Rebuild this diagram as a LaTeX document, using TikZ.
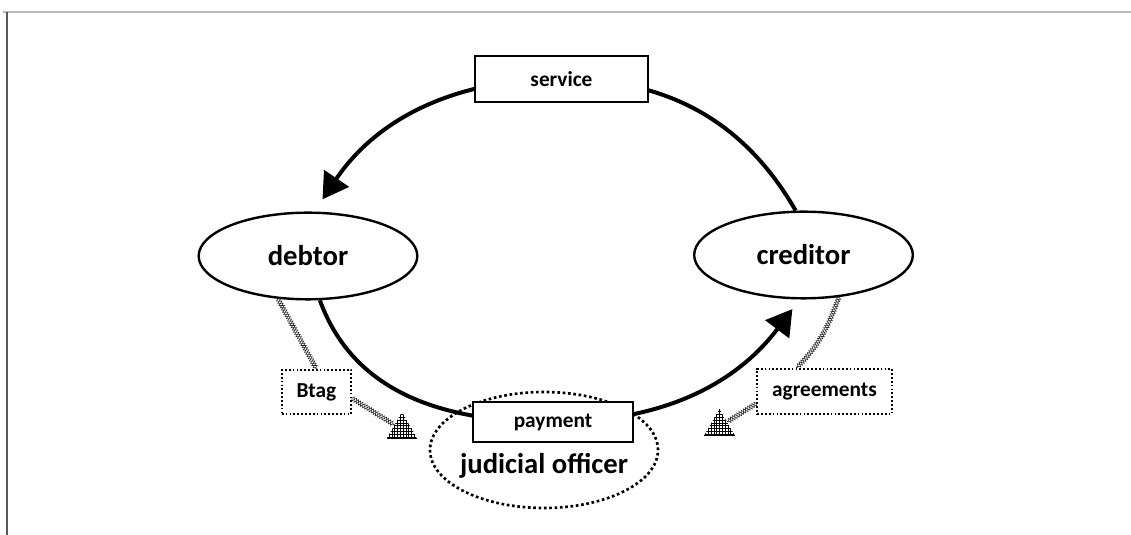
\documentclass[tikz,border=0pt]{standalone}
\usepackage{fontspec}
\setmainfont{Carlito}
\usetikzlibrary{arrows.meta, shapes.geometric, decorations.pathmorphing, patterns, backgrounds}

% fine grid for the hatched triangles
\pgfdeclarepatternformonly{finegrid}{\pgfqpoint{-0.5pt}{-0.5pt}}{\pgfqpoint{2.6pt}{2.6pt}}{\pgfqpoint{2.1pt}{2.1pt}}{%
    \pgfsetlinewidth{0.55pt}
    \pgfpathmoveto{\pgfqpoint{0pt}{0pt}}\pgfpathlineto{\pgfqpoint{2.1pt}{0pt}}
    \pgfpathmoveto{\pgfqpoint{0pt}{0pt}}\pgfpathlineto{\pgfqpoint{0pt}{2.1pt}}
    \pgfusepath{stroke}}

\begin{document}
\begin{tikzpicture}[
    x=0.75pt, y=0.75pt,
    > = {Triangle[length=19pt, width=22pt]},
    party/.style={ellipse, draw, line width=1.8pt, fill=white, minimum width=164pt, minimum height=65pt,
        font=\fontsize{21.5}{24}\selectfont\bfseries},
    tagbox/.style={rectangle, draw, line width=1.6pt, fill=white, inner sep=0pt,
        font=\fontsize{16}{18}\selectfont\bfseries},
    notebox/.style={rectangle, draw, line width=1.3pt, dash pattern=on 1.3pt off 1.6pt, fill=white, inner sep=0pt,
        font=\fontsize{16}{18}\selectfont\bfseries},
    flow/.style={line width=3pt},
    stitch/.style={
        preaction={draw=black!85, line width=0.45pt, decorate, decoration={zigzag, amplitude=1.8pt, segment length=3.8pt}},
        postaction={draw=black!85, line width=0.45pt, decorate, decoration={zigzag, mirror, amplitude=1.8pt, segment length=3.8pt}}},
    hatch/.style={regular polygon, regular polygon sides=3, minimum size=26pt, inner sep=0pt, pattern=finegrid}
]
    \useasboundingbox (0,0) rectangle (1131,535);

    % Draw the page frame
    \draw[gray!55, line width=1.5pt] (3,523) -- (1131,523);
    \draw[black!65, line width=1.5pt] (7,523) -- (7,0);

    % Draw the two parties
    \node[party] (debtor) at (308,279) {debtor};
    \node[party] (creditor) at (803.5,280) {creditor};

    % Draw the judicial officer (dotted)
    \node[ellipse, draw, line width=2pt, dash pattern=on 2pt off 2pt, minimum width=171pt, minimum height=87pt,
        label={[font=\fontsize{21.5}{24}\selectfont\bfseries, yshift=-12pt]center:judicial officer}] (officer) at (544,85) {};

    % Labels on the cycle
    \node[tagbox, minimum width=130pt, minimum height=34.5pt] (service) at (561.5,456) {service};
    \node[tagbox, minimum width=120pt, minimum height=30pt] (payment) at (553,113) {payment};

    % Side notes and hatched triangles
    \node[notebox, minimum width=52pt, minimum height=33pt] (btag) at (316.5,143) {Btag};
    \node[notebox, minimum width=101pt, minimum height=34pt] (agree) at (824.5,143.5) {agreements};
    \node[hatch] (lefttri) at (402,105.7) {};
    \node[hatch] (righttri) at (719.5,108.7) {};
    \draw[line width=0.8pt] (lefttri.corner 2) -- (lefttri.corner 3);
    \draw[line width=0.8pt] (righttri.corner 2) -- (righttri.corner 3);

    % Draw the cycle behind the boxes
    \begin{scope}[on background layer]
        \draw[flow, ->, shorten >=11pt] (creditor.100) to[out=120, in=0] (service.center)
            to[out=180, in=56] (debtor.82);
        \draw[flow, ->, shorten >=9pt] (debtor.285) to[out=290, in=180] (payment.center)
            to[out=0, in=233] (creditor.265);
    \end{scope}

    % Stitched links
    \path[stitch] (debtor.235) -- (btag.north);
    \path[stitch] (btag.-10) -- (lefttri.side 1);
    \path[stitch] (creditor.310) to[out=250, in=45] (agree.140);
    \path[stitch] (agree.190) -- (righttri.side 3);
\end{tikzpicture}
\end{document}
